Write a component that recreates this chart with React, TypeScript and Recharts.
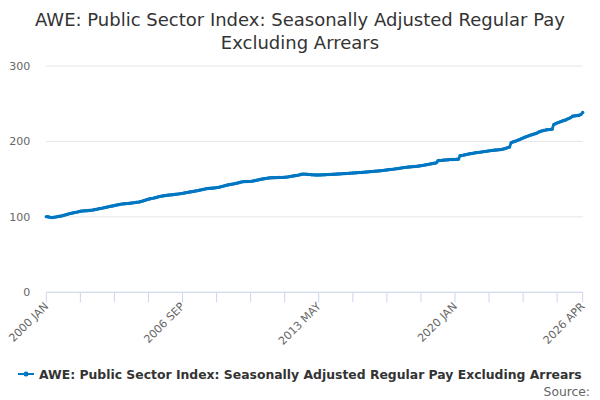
import React from "react";
import { LineChart, Line, XAxis, YAxis, CartesianGrid } from "recharts";

const SERIES_NAME = "AWE: Public Sector Index: Seasonally Adjusted Regular Pay Excluding Arrears";

const MONTHS = ["JAN", "FEB", "MAR", "APR", "MAY", "JUN", "JUL", "AUG", "SEP", "OCT", "NOV", "DEC"];

// monthly index values, one array per year
const pay2000 = [100.3, 100.1, 99.5, 99.0, 99.3, 99.7, 100.0, 100.4, 100.8, 101.3, 101.9, 102.5];
const pay2001 = [103.1, 103.8, 104.4, 104.9, 105.4, 105.9, 106.3, 106.8, 107.4, 107.7, 107.9, 108.1];
const pay2002 = [108.2, 108.4, 108.7, 109.0, 109.4, 109.8, 110.3, 110.8, 111.2, 111.6, 112.1, 112.6];
const pay2003 = [113.1, 113.6, 114.1, 114.5, 115.0, 115.5, 116.0, 116.4, 116.9, 117.2, 117.4, 117.6];
const pay2004 = [117.8, 118.0, 118.3, 118.6, 118.9, 119.3, 119.6, 120.0, 120.6, 121.3, 122.0, 122.7];
const pay2005 = [123.4, 124.0, 124.5, 124.9, 125.4, 126.0, 126.7, 127.2, 127.6, 128.0, 128.3, 128.6];
const pay2006 = [128.9, 129.1, 129.3, 129.6, 129.9, 130.2, 130.5, 130.8, 131.2, 131.6, 132.0, 132.5];
const pay2007 = [132.9, 133.3, 133.6, 134.0, 134.4, 134.8, 135.3, 135.8, 136.3, 136.8, 137.3, 137.6];
const pay2008 = [137.9, 138.0, 138.2, 138.4, 138.7, 139.1, 139.6, 140.2, 140.8, 141.4, 142.0, 142.5];
const pay2009 = [142.9, 143.3, 143.7, 144.2, 144.7, 145.3, 145.9, 146.4, 146.7, 146.8, 146.9, 147.0];
const pay2010 = [147.1, 147.4, 147.8, 148.3, 148.8, 149.3, 149.8, 150.2, 150.6, 151.0, 151.3, 151.6];
const pay2011 = [151.8, 151.9, 151.9, 152.0, 152.1, 152.2, 152.3, 152.4, 152.5, 152.7, 153.0, 153.4];
const pay2012 = [153.8, 154.2, 154.6, 155.0, 155.4, 155.9, 156.5, 156.7, 156.6, 156.4, 156.2, 156.0];
const pay2013 = [155.8, 155.7, 155.6, 155.5, 155.6, 155.6, 155.7, 155.8, 155.9, 156.0, 156.1, 156.3];
const pay2014 = [156.4, 156.5, 156.6, 156.8, 156.9, 157.0, 157.2, 157.3, 157.5, 157.7, 157.8, 158.0];
const pay2015 = [158.1, 158.3, 158.4, 158.6, 158.8, 158.9, 159.1, 159.3, 159.5, 159.7, 159.9, 160.1];
const pay2016 = [160.3, 160.5, 160.7, 160.9, 161.1, 161.3, 161.6, 161.9, 162.2, 162.5, 162.7, 163.0];
const pay2017 = [163.3, 163.6, 163.9, 164.2, 164.6, 165.0, 165.3, 165.6, 165.9, 166.1, 166.3, 166.5];
const pay2018 = [166.7, 166.9, 167.2, 167.5, 167.8, 168.2, 168.6, 169.0, 169.4, 169.9, 170.4, 170.8];
const pay2019 = [171.2, 171.6, 174.4, 174.7, 174.9, 175.1, 175.3, 175.5, 175.7, 175.9, 176.0, 176.1];
const pay2020 = [176.2, 176.3, 176.5, 181.0, 181.4, 181.8, 182.3, 182.8, 183.3, 183.7, 184.1, 184.5];
const pay2021 = [184.9, 185.2, 185.5, 185.8, 186.1, 186.5, 186.8, 187.2, 187.5, 187.8, 188.1, 188.4];
const pay2022 = [188.6, 188.8, 189.0, 189.3, 189.7, 190.3, 191.0, 191.8, 192.5, 198.3, 199.2, 200.0];
const pay2023 = [200.8, 201.7, 202.6, 203.6, 204.6, 205.6, 206.4, 207.2, 208.0, 208.8, 209.5, 210.2];
const pay2024 = [211.0, 212.2, 213.2, 213.9, 214.5, 215.0, 215.4, 215.7, 216.0, 216.3, 222.3, 223.4];
const pay2025 = [224.5, 225.3, 226.2, 227.0, 227.7, 228.5, 229.6, 230.6, 231.6, 233.3, 233.8, 234.1];
const pay2026 = [234.3, 234.8, 235.9, 238.5];

const YEARS = [
  2000, 2001, 2002, 2003, 2004, 2005, 2006, 2007, 2008, 2009, 2010, 2011, 2012, 2013,
  2014, 2015, 2016, 2017, 2018, 2019, 2020, 2021, 2022, 2023, 2024, 2025, 2026,
];
const PAY_BY_YEAR = [
  pay2000, pay2001, pay2002, pay2003, pay2004, pay2005, pay2006, pay2007, pay2008,
  pay2009, pay2010, pay2011, pay2012, pay2013, pay2014, pay2015, pay2016, pay2017,
  pay2018, pay2019, pay2020, pay2021, pay2022, pay2023, pay2024, pay2025, pay2026,
];

const X_TICKS = [
  "2000 JAN", "2001 SEP", "2003 MAY", "2005 JAN", "2006 SEP", "2008 MAY", "2010 JAN",
  "2011 SEP", "2013 MAY", "2015 JAN", "2016 SEP", "2018 MAY", "2020 JAN", "2021 SEP",
  "2023 MAY", "2025 JAN", "2026 APR",
];
const X_LABELS = ["2000 JAN", "2006 SEP", "2013 MAY", "2020 JAN", "2026 APR"];
const Y_TICKS = [0, 100, 200, 300];

const data = YEARS.flatMap((year, i) =>
  PAY_BY_YEAR[i].map((value, m) => ({ month: `${year} ${MONTHS[m]}`, value }))
);

const BLUE = "#0077c2";
const FONT = "'DejaVu Sans', sans-serif";

function MonthTick({ x, y, payload }: any) {
  if (!X_LABELS.includes(payload.value)) return null;
  return (
    <g transform={`translate(${x},${y})`}>
      <text
        transform="rotate(-45)"
        textAnchor="end"
        dy="0.35em"
        fontSize={11}
        fill="#666666"
        fontFamily={FONT}
      >
        {payload.value}
      </text>
    </g>
  );
}

export default function App() {
  return (
    <div
      style={{
        position: "absolute",
        left: 0,
        top: 0,
        width: 600,
        height: 400,
        background: "#fff",
        fontFamily: FONT,
      }}
    >
      <LineChart
        width={600}
        height={400}
        data={data}
        margin={{ top: 66, right: 17.3, left: 0, bottom: 47.7 }}
        style={{ position: "absolute", left: 0, top: 0 }}
      >
        <CartesianGrid vertical={false} stroke="#e6e6e6" />
        <XAxis
          dataKey="month"
          ticks={X_TICKS}
          interval={0}
          height={60}
          tick={<MonthTick />}
          tickSize={10}
          stroke="#ccd6eb"
          tickLine={{ stroke: "#ccd6eb" }}
          axisLine={{ stroke: "#ccd6eb" }}
        />
        <YAxis
          width={46.3}
          domain={[0, 300]}
          ticks={Y_TICKS}
          axisLine={false}
          tickLine={false}
          tickMargin={10}
          tick={{ fontSize: 11, fill: "#666666", fontFamily: FONT }}
        />
        <Line
          type="linear"
          dataKey="value"
          stroke={BLUE}
          strokeWidth={2.8}
          dot={{ r: 1.7, fill: BLUE, stroke: "none" }}
          isAnimationActive={false}
        />
      </LineChart>

      <div
        style={{
          position: "absolute",
          left: 0,
          top: 8,
          width: 600,
          textAlign: "center",
          fontSize: 18,
          lineHeight: "23px",
          color: "#333333",
        }}
      >
        AWE: Public Sector Index: Seasonally Adjusted Regular Pay
        <br />
        Excluding Arrears
      </div>

      <div
        style={{
          position: "absolute",
          left: 18,
          top: 365,
          height: 18,
          display: "flex",
          alignItems: "center",
          fontSize: 12.4,
          fontWeight: "bold",
          color: "#333333",
          whiteSpace: "nowrap",
        }}
      >
        <svg width={16} height={10} style={{ marginRight: 5 }}>
          <line x1={0} y1={5} x2={16} y2={5} stroke={BLUE} strokeWidth={2} />
          <circle cx={8} cy={5} r={2.5} fill={BLUE} />
        </svg>
        {SERIES_NAME}
      </div>

      <div
        style={{
          position: "absolute",
          right: 10,
          top: 385,
          fontSize: 12.3,
          color: "#666666",
        }}
      >
        Source:
      </div>
    </div>
  );
}
